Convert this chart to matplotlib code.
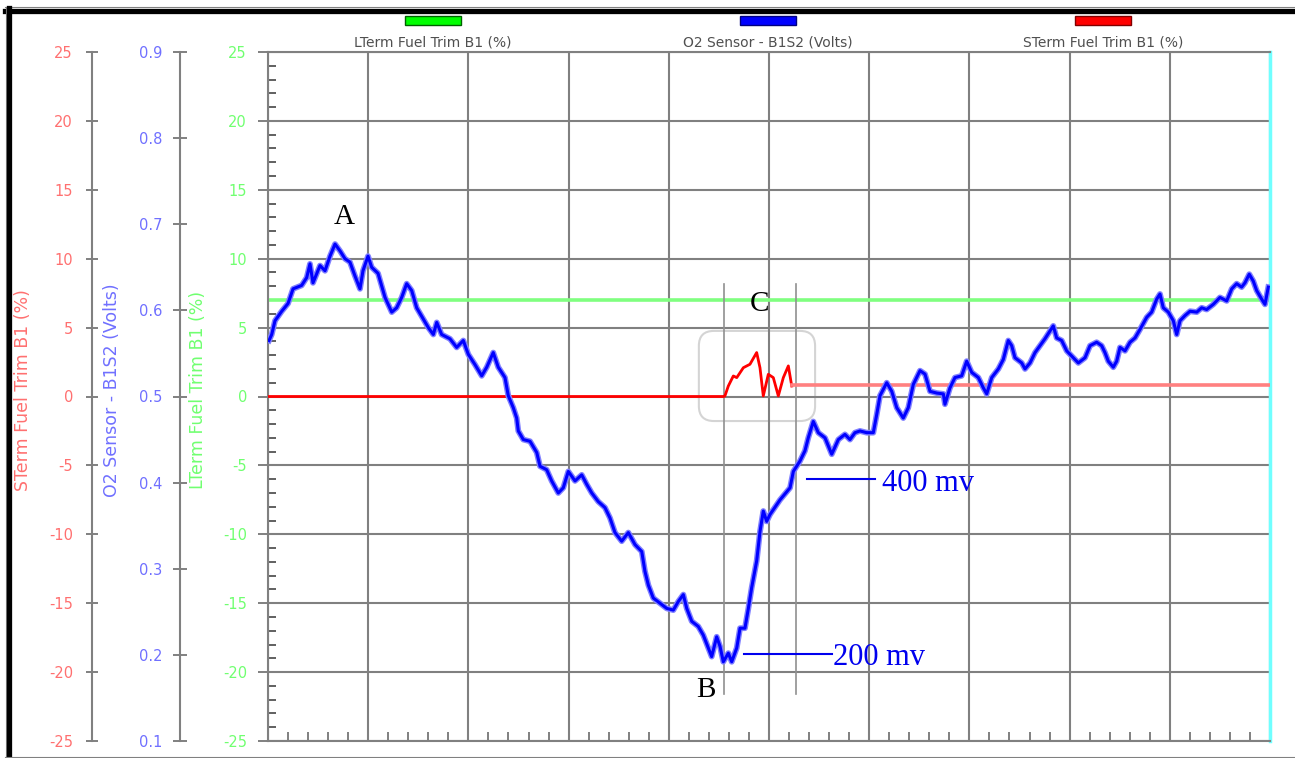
import numpy as np
import matplotlib
matplotlib.use("Agg")
import matplotlib.pyplot as plt
from matplotlib.patches import Rectangle, FancyBboxPatch
from matplotlib.lines import Line2D
from matplotlib.ticker import FormatStrFormatter

plt.rcParams["axes.unicode_minus"] = False

# time runs 0..100 over the 10 grid divisions (no x labels on the scope)
o2_t = [0.1, 0.37, 0.7, 1.37, 2.0, 2.5, 3.36, 3.86, 4.19, 4.49, 5.19, 5.69, 6.19, 6.69,
        7.19, 7.68, 8.18, 8.68, 9.18, 9.48, 9.98, 10.35, 10.98, 11.68, 12.35, 12.84,
        13.34, 13.84, 14.34, 14.84, 15.5, 16.0, 16.5, 16.84, 17.33, 18.16, 18.83, 19.49,
        19.99, 20.66, 21.33, 21.83, 22.48, 22.98, 23.65, 23.98, 24.48, 24.82, 24.98,
        25.48, 26.15, 26.82, 27.15, 27.81, 28.31, 28.97, 29.47, 29.97, 30.64, 31.31,
        31.81, 32.31, 32.96, 33.63, 34.13, 34.63, 35.3, 35.96, 36.63, 37.3, 37.62, 37.96,
        38.45, 39.12, 39.79, 40.45, 40.95, 41.45, 41.79, 42.29, 42.94, 43.44, 43.94,
        44.28, 44.78, 45.11, 45.44, 45.94, 46.28, 46.78, 47.11, 47.6, 47.94, 48.27,
        48.77, 49.1, 49.43, 49.77, 50.1, 51.1, 52.1, 52.43, 53.09, 53.59, 53.92, 54.42,
        54.92, 55.59, 56.26, 56.92, 57.58, 58.08, 58.58, 59.08, 59.75, 60.41, 60.75,
        61.08, 61.75, 62.25, 62.75, 63.4, 63.9, 64.4, 65.07, 65.57, 66.07, 66.74, 67.4,
        67.56, 68.06, 68.56, 69.23, 69.73, 70.23, 70.89, 71.39, 71.73, 72.23, 72.89,
        73.38, 73.88, 74.22, 74.55, 75.22, 75.55, 76.05, 76.55, 77.05, 77.54, 78.37,
        78.71, 79.21, 79.71, 80.21, 80.87, 81.54, 82.04, 82.7, 83.2, 83.53, 83.86, 84.36,
        84.7, 85.03, 85.53, 86.03, 86.53, 87.03, 87.7, 88.19, 88.69, 89.02, 89.35, 89.85,
        90.35, 90.69, 91.02, 91.52, 92.02, 92.69, 93.18, 93.68, 94.34, 95.01, 95.68,
        96.18, 96.67, 97.17, 97.5, 97.93, 98.33, 98.67, 99.17, 99.5, 99.83]
o2_v = [0.565, 0.572, 0.588, 0.599, 0.608, 0.625, 0.629, 0.638, 0.654, 0.632, 0.652, 0.646,
        0.663, 0.677, 0.669, 0.660, 0.656, 0.640, 0.625, 0.646, 0.663, 0.650, 0.643, 0.615,
        0.598, 0.603, 0.615, 0.631, 0.623, 0.603, 0.590, 0.580, 0.572, 0.586, 0.572, 0.567,
        0.557, 0.565, 0.549, 0.537, 0.524, 0.534, 0.551, 0.534, 0.522, 0.501, 0.487, 0.475,
        0.460, 0.450, 0.448, 0.435, 0.419, 0.415, 0.402, 0.388, 0.394, 0.413, 0.402, 0.409,
        0.398, 0.388, 0.378, 0.371, 0.359, 0.342, 0.332, 0.342, 0.328, 0.320, 0.297, 0.281,
        0.266, 0.260, 0.254, 0.252, 0.262, 0.270, 0.254, 0.239, 0.233, 0.223, 0.208, 0.198,
        0.221, 0.210, 0.192, 0.202, 0.192, 0.208, 0.231, 0.231, 0.254, 0.278, 0.309, 0.343,
        0.367, 0.355, 0.363, 0.380, 0.394, 0.413, 0.425, 0.437, 0.452, 0.471, 0.458, 0.452,
        0.433, 0.450, 0.456, 0.450, 0.458, 0.460, 0.458, 0.458, 0.479, 0.501, 0.516, 0.506,
        0.487, 0.475, 0.487, 0.514, 0.530, 0.526, 0.506, 0.504, 0.503, 0.491, 0.510, 0.522,
        0.524, 0.541, 0.528, 0.522, 0.510, 0.503, 0.522, 0.532, 0.543, 0.565, 0.559, 0.545,
        0.539, 0.532, 0.539, 0.551, 0.559, 0.567, 0.582, 0.568, 0.565, 0.553, 0.547, 0.539,
        0.545, 0.559, 0.563, 0.559, 0.551, 0.541, 0.534, 0.541, 0.557, 0.553, 0.563, 0.568,
        0.578, 0.592, 0.598, 0.613, 0.619, 0.603, 0.598, 0.588, 0.572, 0.588, 0.594, 0.599,
        0.598, 0.603, 0.601, 0.607, 0.615, 0.611, 0.625, 0.631, 0.627, 0.632, 0.642, 0.634,
        0.623, 0.613, 0.607, 0.627]

sterm_t = [0, 45.5, 45.6, 45.94, 46.44, 46.78, 47.44, 48.1, 48.77, 49.1, 49.43, 49.93,
           50.43, 50.93, 51.43, 51.93, 52.27]
sterm_v = [0, 0, 0.04, 0.76, 1.49, 1.37, 2.09, 2.34, 3.19, 2.09, 0.04, 1.61, 1.37, 0.04,
           1.37, 2.22, 0.76]
sterm_hold_t = [52.27, 100]
sterm_hold_v = [0.8, 0.8]

lterm_t = [0, 100]
lterm_v = [7, 7]

series_names = ["LTerm Fuel Trim B1 (%)", "O2 Sensor - B1S2 (Volts)", "STerm Fuel Trim B1 (%)"]
series_colors = ["#00ff00", "#0000ff", "#ff0000"]
series_edges = ["#006000", "#000080", "#800000"]

trim_ticks = np.arange(-25, 26, 5)
o2_ticks = np.arange(0.1, 0.91, 0.1)

W, H = 1295, 758
GRAY = "#808080"
serif = ["Liberation Serif", "DejaVu Serif"]

fig = plt.figure(figsize=(W / 100, H / 100), dpi=100)
ax = fig.add_axes([268 / W, 17 / H, 1002 / W, 689 / H])

# main (LTerm) axis
ax.set_xlim(0, 100)
ax.set_ylim(-25, 25)
ax.set_xticks(np.arange(0, 101, 10))
ax.set_xticks(np.arange(0, 101, 2), minor=True)
ax.tick_params(axis="x", which="major", length=0, labelbottom=False)
ax.tick_params(axis="x", which="minor", direction="in", length=6.5, width=1.4, color=GRAY)
ax.set_yticks(trim_ticks)
ax.set_yticks(np.arange(-25, 26, 1), minor=True)
ax.tick_params(axis="y", which="major", direction="out", length=7.2, width=1.4, color=GRAY,
               labelcolor="#70ff70", labelsize=10.5, pad=8)
ax.tick_params(axis="y", which="minor", direction="in", length=5.8, width=1.4, color="#606060")
ax.grid(True, which="major", color=GRAY, lw=1.5)
for s in ["left", "top", "bottom"]:
    ax.spines[s].set_color(GRAY)
    ax.spines[s].set_linewidth(1.5)
ax.spines["right"].set_color("#70ffff")
ax.spines["right"].set_linewidth(2.5)

ax.plot(lterm_t, lterm_v, color="#80ff80", lw=2.6)


def side_axis(offset_px, ylim, ticks, color, tlen, pad):
    a = ax.twinx()
    a.set_ylim(*ylim)
    for s in ["top", "bottom", "right"]:
        a.spines[s].set_visible(False)
    a.spines["left"].set_visible(True)
    a.spines["left"].set_position(("axes", -offset_px / 1002))
    a.spines["left"].set_color(GRAY)
    a.spines["left"].set_linewidth(1.5)
    a.yaxis.set_ticks_position("left")
    a.yaxis.set_label_position("left")
    a.set_yticks(ticks)
    a.tick_params(axis="y", direction="inout", length=tlen, width=1.4, color=GRAY,
                  labelcolor=color, labelsize=10.5, pad=pad)
    return a


ax_st = side_axis(176, (-25, 25), trim_ticks, "#ff7070", 8.6, 9.4)
ax_o2 = side_axis(88, (0.1, 0.9), o2_ticks, "#7070ff", 10, 7.9)
ax_o2.yaxis.set_major_formatter(FormatStrFormatter("%.1f"))

ax_st.plot(sterm_t, sterm_v, color="#ff0000", lw=2.0)
ax_st.plot(sterm_hold_t, sterm_hold_v, color="#ff8080", lw=2.6)
ax_o2.plot(o2_t, o2_v, color="#8080ff", lw=4.2)
ax_o2.plot(o2_t, o2_v, color="#0000ff", lw=2.2)

# axis titles
for xpx, name, col in [(23, series_names[2], "#ff7070"), (112, series_names[1], "#7070ff"),
                       (198, series_names[0], "#70ff70")]:
    fig.text(xpx / W, 1 - 390 / H, name, rotation=90, ha="center", va="center",
             color=col, fontsize=12.5)

# legend on top: colour bar above name
for i, (name, col, ec) in enumerate(zip(series_names, series_colors, series_edges)):
    cx = 433 + 335 * i
    fig.add_artist(Rectangle(((cx - 28) / W, 1 - 25 / H), 56 / W, 9 / H,
                             transform=fig.transFigure, facecolor=col, edgecolor=ec, lw=1))
    fig.text(cx / W, 1 - 43 / H, name, ha="center", va="center", color="#505050", fontsize=10)

# annotations
ax.plot([45.5, 45.5], [8.2, -21.6], color="#909090", lw=1.2)
ax.plot([52.7, 52.7], [8.2, -21.6], color="#909090", lw=1.2)
ax.add_patch(FancyBboxPatch((43.0, -1.78), 11.6, 6.54,
                            boxstyle="round,pad=0,rounding_size=1.5", mutation_aspect=0.727,
                            fill=False, edgecolor="#d4d4d4", lw=1.5))
ax.text(7.6, 12.5, "A", fontsize=21, family=serif, ha="center", va="baseline")
ax.text(43.7, -21.8, "B", fontsize=21, family=serif, ha="center", va="baseline")
ax.text(49.1, 6.2, "C", fontsize=21, family=serif, ha="center", va="baseline")
ax.plot([53.8, 60.6], [-6.0, -6.0], color="#0000ee", lw=1.5)
ax.text(61.3, -6.87, "400 mv", fontsize=22, family=serif, color="#0000ee", va="baseline")
ax.plot([47.5, 56.3], [-18.7, -18.7], color="#0000ee", lw=1.5)
ax.text(56.4, -19.45, "200 mv", fontsize=22, family=serif, color="#0000ee", va="baseline")

# window frame
fig.add_artist(Line2D([5 / W, 1], [1 - 6.5 / H] * 2, color=GRAY, lw=0.8))
fig.add_artist(Line2D([5 / W, 1], [1 - 10.5 / H] * 2, color="black", lw=3.8))
fig.add_artist(Line2D([5.5 / W] * 2, [0, 1 - 6.5 / H], color=GRAY, lw=0.8))
fig.add_artist(Line2D([8.5 / W] * 2, [0, 1 - 8 / H], color="black", lw=3.8))
fig.add_artist(Line2D([5 / W, 1], [1.3 / H] * 2, color=GRAY, lw=0.8))

fig.savefig("out.png", dpi=100)
